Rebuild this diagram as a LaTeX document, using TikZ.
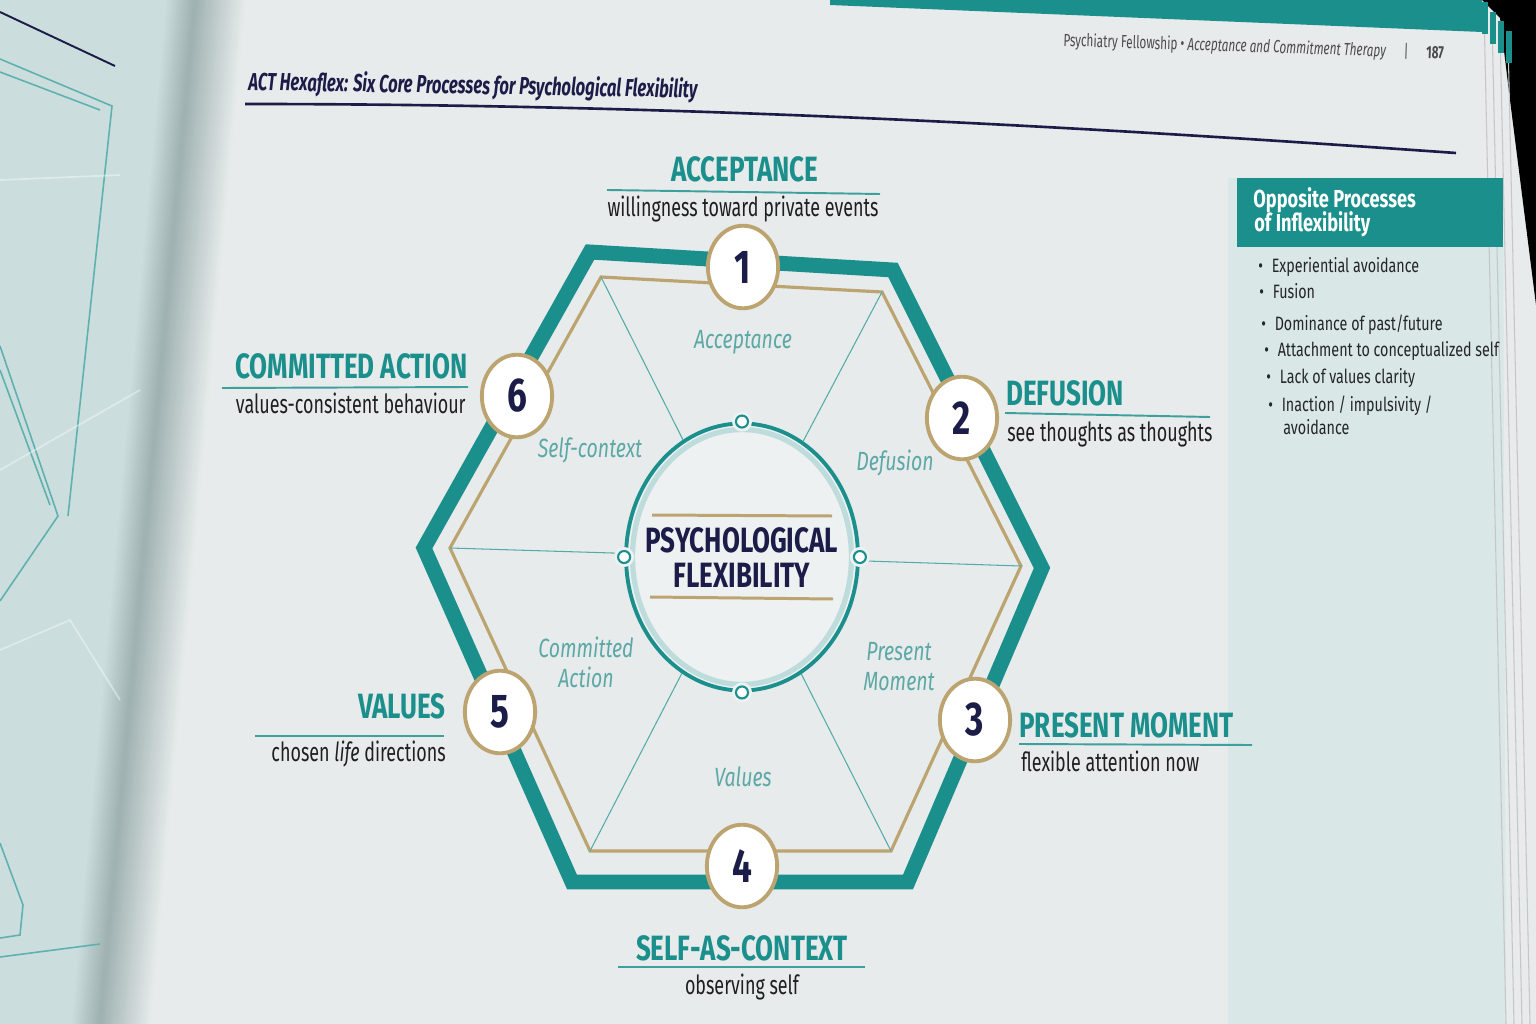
\documentclass[tikz,border=0pt]{standalone}
\usepackage{fontspec}
\setmainfont{Fira Sans}[FakeStretch=0.74]
\newfontfamily\cfSub{Fira Sans}[FakeStretch=0.68]
\newfontfamily\cfTop{Fira Sans}[FakeStretch=0.67]
\newfontfamily\cfTitle{Fira Sans}[FakeStretch=0.675]
\usetikzlibrary{shapes.geometric}
\definecolor{tealc}{RGB}{27,143,140}
\definecolor{goldc}{RGB}{188,164,112}
\definecolor{navyc}{RGB}{28,28,72}
\definecolor{lteal}{RGB}{92,168,166}
\definecolor{pagec}{RGB}{231,235,235}
\definecolor{leftc}{RGB}{203,221,221}
\definecolor{sidec}{RGB}{217,231,231}
\definecolor{corefill}{RGB}{238,241,241}
\definecolor{gutc}{RGB}{160,178,178}
\newcommand\fHead{\bfseries\fontsize{20}{22}\selectfont}
\newcommand\fSub{\cfSub\fontsize{15}{17}\selectfont}
\newcommand\fNum{\bfseries\fontsize{27}{28}\selectfont}
\newcommand\fInn{\itshape\fontsize{15}{18}\selectfont}
\newcommand\fCore{\bfseries\fontsize{20}{22}\selectfont}
\newcommand\fTitle{\cfTitle\bfseries\itshape\fontsize{14}{16}\selectfont}
\newcommand\fTop{\cfTop\fontsize{10}{12}\selectfont}
\newcommand\fSide{\bfseries\fontsize{14}{14}\selectfont}
\newcommand\fBul{\fontsize{11}{13}\selectfont}
\begin{document}
\begin{tikzpicture}[x=0.02cm,y=-0.02cm,
  hexo/.style={draw=tealc,line width=8.5pt,line join=miter},
  hexi/.style={draw=goldc,line width=1.8pt,line join=miter},
  spoke/.style={draw=tealc!75,line width=0.6pt},
  numc/.style={ellipse,draw=goldc,line width=2.2pt,fill=white,minimum width=40pt,minimum height=47pt,inner sep=0pt,font=\fNum,text=navyc},
  headlab/.style={font=\fHead,text=tealc,inner sep=0pt},
  sublab/.style={font=\fSub,text=black!88,inner sep=0pt},
  innerlab/.style={font=\fInn,text=lteal,align=center,inner sep=0pt},
  uline/.style={draw=tealc!85,line width=1.1pt},
  goldline/.style={draw=goldc,line width=1.7pt},
  bul/.style={font=\fBul,text=black!85,anchor=base west,inner sep=0pt},
  leftln/.style={draw=tealc!70,line width=0.9pt}]
\useasboundingbox (0,0) rectangle (1536,1024);
% ---------- pages ----------
\fill[pagec] (0,0) rectangle (1536,1024);
\fill[leftc] (0,0) -- (195,0) -- (100,1024) -- (0,1024) -- cycle;
\foreach \i in {0,...,14}{
  \pgfmathsetmacro\c{\i*100/14}
  \fill[gutc!\c!leftc] ({165+\i*2},0) -- ({167.5+\i*2},0) -- ({72.5+\i*2},1024) -- ({70+\i*2},1024) -- cycle;}
\foreach \i in {0,...,24}{
  \pgfmathsetmacro\c{100-\i*4}
  \fill[gutc!\c!pagec] ({195+\i*2},0) -- ({197.5+\i*2},0) -- ({102.5+\i*2},1024) -- ({100+\i*2},1024) -- cycle;}
% left page decorations
\draw[navyc,line width=1.1pt] (0,12) -- (115,66);
\draw[leftln] (0,59) -- (112,106) -- (68,516);
\draw[leftln] (0,72) -- (100,110);
\draw[leftln] (0,346) -- (58,516) -- (0,601);
\draw[leftln] (0,370) -- (50,505);
\draw[leftln] (0,843) -- (23,905) -- (20,935) -- (0,938);
\draw[leftln] (0,957) -- (100,944);
\draw[white,opacity=0.4,line width=1pt] (0,180) -- (120,175);
\draw[white,opacity=0.4,line width=1pt] (0,470) -- (140,390);
\draw[white,opacity=0.4,line width=1pt] (0,650) -- (70,620) -- (120,700);
% top teal band and page stack
\fill[tealc] (830,0) -- (1482,0) -- (1482,32) -- (830,5) -- cycle;
\fill[sidec] (1228,178) -- (1503,178) -- (1506,1024) -- (1228,1024) -- cycle;
\fill[black] (1482,0) -- (1536,0) -- (1536,305) -- (1510,100) -- (1500,18) -- cycle;
\foreach \dx in {0,8,16,24}{
  \draw[gray!45,line width=0.6pt] ({1484+\dx},{10+\dx*1.2}) -- ({1506+\dx},1024);
  \fill[tealc] ({1482+\dx},{2+\dx*1.2}) rectangle ({1488+\dx},{34+\dx*1.2});}
% ---------- header & title ----------
\node[font=\fTop,text=black!70,anchor=base west,rotate=-1.9,inner sep=0pt] (hdr) at (1063,46)
  {Psychiatry Fellowship \textbullet\ \textit{Acceptance and Commitment Therapy}\quad|\quad\textbf{187}};
\node[font=\fTitle,text=navyc,anchor=base west,rotate=-1,inner sep=0pt] (title) at (248,90)
  {ACT Hexaflex: Six Core Processes for Psychological Flexibility};
\draw[navyc,line width=1.5pt] (245,104) .. controls (700,104) and (1100,128) .. (1456,153);
% ---------- sidebar ----------
\fill[tealc] (1237,178) rectangle (1503,247);
\node[font=\fSide,text=white,anchor=base west,inner sep=0pt] (sh1) at (1253,208) {Opposite Processes};
\node[font=\fSide,text=white,anchor=base west,inner sep=0pt] (sh2) at (1254,232) {of Inflexibility};
\node[bul] (b1) at (1258,273) {\textbullet\hspace{5pt}Experiential avoidance};
\node[bul] (b2) at (1259,298) {\textbullet\hspace{5pt}Fusion};
\node[bul] (b3) at (1261,330) {\textbullet\hspace{5pt}Dominance of past/future};
\node[bul] (b4) at (1264,356) {\textbullet\hspace{5pt}Attachment to conceptualized self};
\node[bul] (b5) at (1266,383) {\textbullet\hspace{5pt}Lack of values clarity};
\node[bul] (b6) at (1268,411) {\textbullet\hspace{5pt}Inaction / impulsivity /};
\node[bul] (b7) at (1283,434) {avoidance};
% ---------- hexagon ----------
\coordinate (o1) at (590,252); \coordinate (o2) at (893,270); \coordinate (o3) at (1042,568);
\coordinate (o4) at (908,882); \coordinate (o5) at (572,882); \coordinate (o6) at (424,548);
\coordinate (g1) at (601,277); \coordinate (g2) at (882,292); \coordinate (g3) at (1021,566);
\coordinate (g4) at (891,851); \coordinate (g5) at (590,851); \coordinate (g6) at (450,548);
\draw[hexo] (o1) -- (o2) -- (o3) -- (o4) -- (o5) -- (o6) -- cycle;
\draw[hexi] (g1) -- (g2) -- (g3) -- (g4) -- (g5) -- (g6) -- cycle;
\node[ellipse,draw=tealc,line width=2.2pt,fill=corefill,minimum width=132pt,minimum height=152pt,inner sep=0pt] (core) at (742,557) {};
\foreach \g in {g1,g2,g3,g4,g5,g6}{\draw[spoke] (\g) -- (core);}
\draw[lteal!40,line width=3pt] (core.center) ellipse [x radius=2.19cm, y radius=2.55cm];
\foreach \a in {north,east,south,west}{
  \fill[corefill] (core.\a) circle (0.2cm);
  \draw[tealc,line width=1.2pt,fill=white] (core.\a) circle (0.12cm);}
\draw[goldline] (652,515) -- (832,516);
\draw[goldline] (650,597) -- (833,599);
\node[font=\fCore,text=navyc,anchor=base,inner sep=0pt] (ct1) at (742,552) {PSYCHOLOGICAL};
\node[font=\fCore,text=navyc,anchor=base,inner sep=0pt] (ct2) at (742,587) {FLEXIBILITY};
% inner labels
\node[innerlab] (i1) at (743,342) {Acceptance};
\node[innerlab] (i2) at (895,463) {Defusion};
\node[innerlab] (i3) at (899,667) {Present\\[-1pt]Moment};
\node[innerlab] (i4) at (743,777) {Values};
\node[innerlab] (i5) at (586,662) {Committed\\[-1pt]Action};
\node[innerlab] (i6) at (590,450) {Self-context};
% number circles
\node[numc] (n1) at (743,267) {1};
\node[numc] (n2) at (962,418) {2};
\node[numc] (n3) at (975,720) {3};
\node[numc] (n4) at (742,866) {4};
\node[numc] (n5) at (500,712) {5};
\node[numc] (n6) at (517,396) {6};
% ---------- outer labels ----------
\node[headlab,anchor=base] (l1) at (745,182) {ACCEPTANCE};
\draw[uline] (607,190) -- (880,194);
\node[sublab,anchor=base] (s1) at (743,216) {willingness toward private events};
\node[headlab,anchor=base west] (l2) at (1006,405) {DEFUSION};
\draw[uline] (1005,413) -- (1210,417);
\node[sublab,anchor=base west] (s2) at (1007,441) {see thoughts as thoughts};
\node[headlab,anchor=base west] (l3) at (1019,737) {PRESENT MOMENT};
\draw[uline] (1019,744) -- (1252,745);
\node[sublab,anchor=base west] (s3) at (1021,771) {flexible attention now};
\node[headlab,anchor=base] (l4) at (742,960) {SELF-AS-CONTEXT};
\draw[uline] (618,967) -- (865,967);
\node[sublab,anchor=base] (s4) at (742,994) {observing self};
\node[headlab,anchor=base east] (l5) at (446,718) {VALUES};
\draw[uline] (255,736) -- (444,736);
\node[sublab,anchor=base east] (s5) at (446,761) {chosen \textit{life} directions};
\node[headlab,anchor=base east] (l6) at (468,378) {COMMITTED ACTION};
\draw[uline] (222,388) -- (468,387);
\node[sublab,anchor=base east] (s6) at (466,413) {values-consistent behaviour};
\end{tikzpicture}
\end{document}
